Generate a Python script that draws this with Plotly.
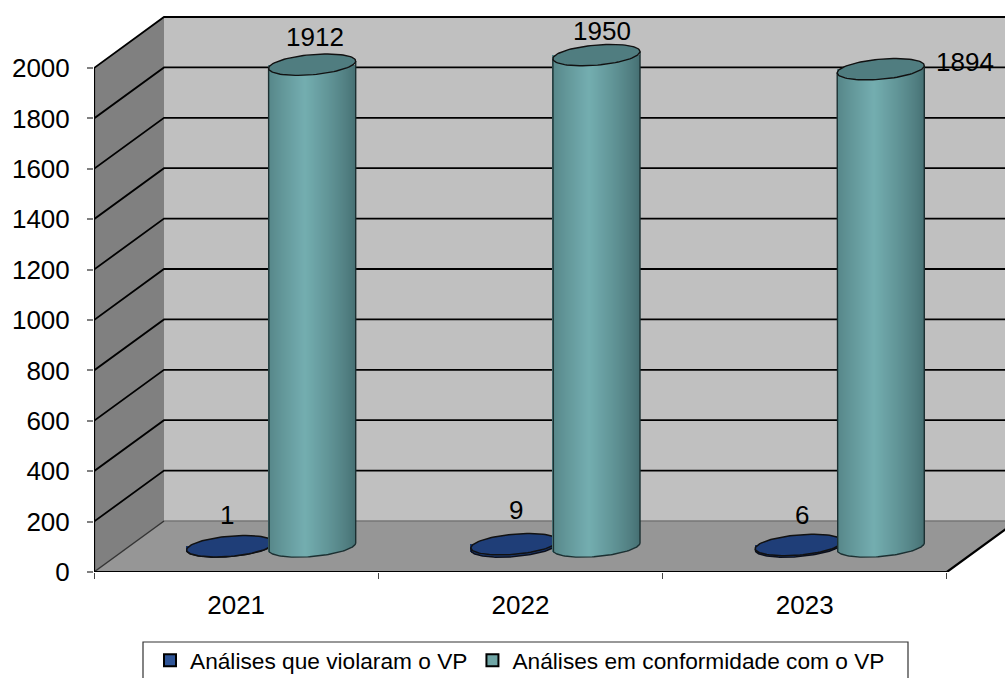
import numpy as np
import plotly.graph_objects as go

# ---- data ----
categories = ["2021", "2022", "2023"]
violated = [1, 9, 6]
conform = [1912, 1950, 1894]
name_violated = "Análises que violaram o VP"
name_conform = "Análises em conformidade com o VP"
y_ticks = [0, 200, 400, 600, 800, 1000, 1200, 1400, 1600, 1800, 2000]

# ---- label nudges (px) ----
shift_violated = [(-3, 31), (2, 34), (3, 30)]
shift_conform = [(3, 28), (6, 24), (84, 7)]

# ---- scale (pixels of the page) ----
W, H = 1005, 678
L_PX, B_PX = 94, 572
PX_X = 284.3          # px per category
PX_Y = 0.252          # px per value unit
XMAX = (W - L_PX) / PX_X
YMAX = B_PX / PX_Y
DEPTH_X = 70 / PX_X   # oblique depth offset, in axis units
DEPTH_Y = 51 / PX_Y
SLOT = 41 / PX_X      # half bar offset from slot centre
RAD = 41 / PX_X       # radius along x
RD = 0.21             # radius along depth, fraction of depth

TEAL_DARK = np.array([70, 112, 115])
TEAL_LIGHT = np.array([116, 174, 176])
BLUE_DARK = np.array([24, 50, 100])
BLUE_LIGHT = np.array([33, 66, 125])


def ellipse(theta):
    return (RAD * np.cos(theta) + RD * DEPTH_X * np.sin(theta),
            RD * DEPTH_Y * np.sin(theta))


EXT = np.arctan2(RD * DEPTH_X, RAD)   # angle of right-most point
HALF = np.hypot(RAD, RD * DEPTH_X)


def lower_arc():
    th = np.linspace(EXT - np.pi, EXT, 80)   # left extreme -> right extreme via lower side
    return ellipse(th)


def cylinder_parts(values, side, dark, light):
    xs, bases, heights, widths, cols = [], [], [], [], []
    topx, topy, outx, outy = [], [], [], []
    ax, ay = lower_arc()
    for i, v in enumerate(values):
        cx = i + 0.5 + DEPTH_X / 2 + side * SLOT
        cy = DEPTH_Y / 2
        n = 87
        edges = np.linspace(-HALF, HALF, n + 1)
        mid = (edges[1:] + edges[:-1]) / 2
        for m in mid:
            t = (m + HALF) / (2 * HALF)
            f = np.clip(1 - abs(t - 0.42) / 0.58, 0, 1) ** 0.8
            c = dark + (light - dark) * f
            low = np.interp(m, ax, ay)
            xs.append(cx + m)
            bases.append(cy + low)
            heights.append(v - low)
            widths.append((edges[1] - edges[0]) * 1.3)
            cols.append("rgb(%d,%d,%d)" % tuple(c))
        th = np.linspace(0, 2 * np.pi, 90)
        ex, ey = ellipse(th)
        topx += list(cx + ex) + [None]
        topy += list(cy + v + ey) + [None]
        outx += [cx + ax[0]] + list(cx + ax) + [cx + ax[-1], None]
        outy += [cy + v + ay[0]] + list(cy + ay) + [cy + v + ay[-1], None]
    return xs, bases, heights, widths, cols, topx, topy, outx, outy


fig = go.Figure()

# ---- chart box: walls and floor ----
D_X, D_Y = DEPTH_X, DEPTH_Y
fig.add_shape(type="path", layer="below", line_width=0, fillcolor="#808080",
              path=f"M 0 0 L 0 {y_ticks[-1]} L {D_X} {y_ticks[-1]+D_Y} L {D_X} {D_Y} Z")
fig.add_shape(type="path", layer="below", line_width=0, fillcolor="#c0c0c0",
              path=f"M {D_X} {D_Y} L {D_X} {y_ticks[-1]+D_Y} L {XMAX+1} {y_ticks[-1]+D_Y} L {XMAX+1} {D_Y} Z")
fig.add_shape(type="path", layer="below", line_width=0, fillcolor="#969696",
              path=f"M 0 0 L 3 0 L {3+D_X} {D_Y} L {D_X} {D_Y} Z")

# back edge of floor, floor diagonal
fig.add_trace(go.Scatter(x=[0, D_X, XMAX + 1], y=[0, D_Y, D_Y], mode="lines",
                         line=dict(color="#777777", width=1.5), showlegend=False,
                         hoverinfo="skip", cliponaxis=False))
fig.add_trace(go.Scatter(x=[0, D_X], y=[0, D_Y], mode="lines",
                         line=dict(color="#333333", width=1.2), showlegend=False,
                         hoverinfo="skip", cliponaxis=False))
# gridlines across side wall and back wall
gx, gy = [], []
for t in y_ticks[1:]:
    gx += [0, D_X, XMAX, None]
    gy += [t, t + D_Y, t + D_Y, None]
fig.add_trace(go.Scatter(x=gx, y=gy, mode="lines", line=dict(color="black", width=1.8),
                         showlegend=False, hoverinfo="skip", cliponaxis=False))
# front edges
fig.add_trace(go.Scatter(x=[0, 0, None, 0, 3, XMAX + 0.2],
                         y=[y_ticks[-1], 0, None, 0, 0, (XMAX + 0.2 - 3) * D_Y / D_X],
                         mode="lines", line=dict(color="black", width=2.2),
                         showlegend=False, hoverinfo="skip", cliponaxis=False))

# ---- cylinders: the teal series sits on an overlaid subplot so it hides the blue discs ----
for vals, side, dark, light, topc, edge, lw, xa, ya in [
    (violated, -1, BLUE_DARK, BLUE_LIGHT, "#1f3e78", "#0b0f1c", 1.5, "x", "y"),
    (conform, 1, TEAL_DARK, TEAL_LIGHT, "#507d80", "#1c3032", 1.4, "x2", "y2"),
]:
    xs, bases, heights, widths, cols, tx, ty, ox, oy = cylinder_parts(vals, side, dark, light)
    fig.add_trace(go.Bar(x=xs, y=heights, base=bases, width=widths, xaxis=xa, yaxis=ya,
                         marker=dict(color=cols, line_width=0), showlegend=False, hoverinfo="skip"))
    fig.add_trace(go.Scatter(x=ox, y=oy, mode="lines", line=dict(color=edge, width=lw), xaxis=xa, yaxis=ya,
                             showlegend=False, hoverinfo="skip"))
    fig.add_trace(go.Scatter(x=tx, y=ty, mode="lines", fill="toself", fillcolor=topc, xaxis=xa, yaxis=ya,
                             line=dict(color="#111111", width=lw),
                             showlegend=False, hoverinfo="skip"))

# ---- legend entries ----
fig.add_trace(go.Scatter(x=[None], y=[None], name=name_violated, mode="markers",
                         marker=dict(symbol="square", size=12, color="#2f5597",
                                     line=dict(color="black", width=2))))
fig.add_trace(go.Scatter(x=[None], y=[None], name=name_conform, mode="markers",
                         marker=dict(symbol="square", size=12, color="#6fa5a5",
                                     line=dict(color="black", width=2))))

# ---- value labels ----
FONT = "Liberation Sans, Arial, sans-serif"
for vals, side, shifts in [(violated, -1, shift_violated), (conform, 1, shift_conform)]:
    for i, (v, s) in enumerate(zip(vals, shifts)):
        fig.add_annotation(x=i + 0.5 + D_X / 2 + side * SLOT, y=v + D_Y / 2, text=str(v),
                           showarrow=False, xshift=s[0], yshift=s[1],
                           font=dict(family=FONT, size=26, color="black"))

# legend frame, open at the page bottom
py = lambda p: (B_PX - p) / B_PX
px = lambda p: (p - L_PX) / (W - L_PX)
fig.add_shape(type="rect", xref="paper", yref="paper", x0=px(143), x1=px(908), y0=py(642), y1=py(700),
              line=dict(color="#333333", width=1.2), fillcolor="white", layer="below")

fig.update_layout(
    width=W, height=H, margin=dict(l=L_PX, r=0, t=0, b=H - B_PX, autoexpand=False),
    paper_bgcolor="white", plot_bgcolor="white", barmode="overlay", bargap=0,
    font=dict(family=FONT, size=26, color="black"),
    legend=dict(orientation="h", x=px(150), xanchor="left", y=py(639), yanchor="top",
                bgcolor="rgba(0,0,0,0)", borderwidth=0, font=dict(size=22.7),
                traceorder="normal", itemclick=False, itemdoubleclick=False),
    xaxis=dict(range=[0, XMAX], showgrid=False, zeroline=False, showline=False,
               tickmode="array", tickvals=[i + 0.5 for i in range(3)], ticktext=categories,
               ticks="", ticklabelstandoff=15, tickfont=dict(size=26),
               minor=dict(tickmode="array", tickvals=[0, 1, 2, 3], ticks="outside", ticklen=6,
                          tickcolor="#444444", tickwidth=1.2, showgrid=False)),
    yaxis=dict(range=[0, YMAX], showgrid=False, zeroline=False, showline=False,
               tickmode="array", tickvals=y_ticks, ticktext=[str(t) for t in y_ticks],
               ticks="outside", ticklen=6, tickcolor="#808080", tickwidth=1.5,
               ticklabelstandoff=12, tickfont=dict(size=26)),
    xaxis2=dict(range=[0, XMAX], overlaying="x", visible=False),
    yaxis2=dict(range=[0, YMAX], overlaying="y", visible=False),
    showlegend=True,
)

fig.write_html("out.html", config={"displayModeBar": False},
               post_script="document.body.style.margin='0';document.body.style.overflow='hidden';")
